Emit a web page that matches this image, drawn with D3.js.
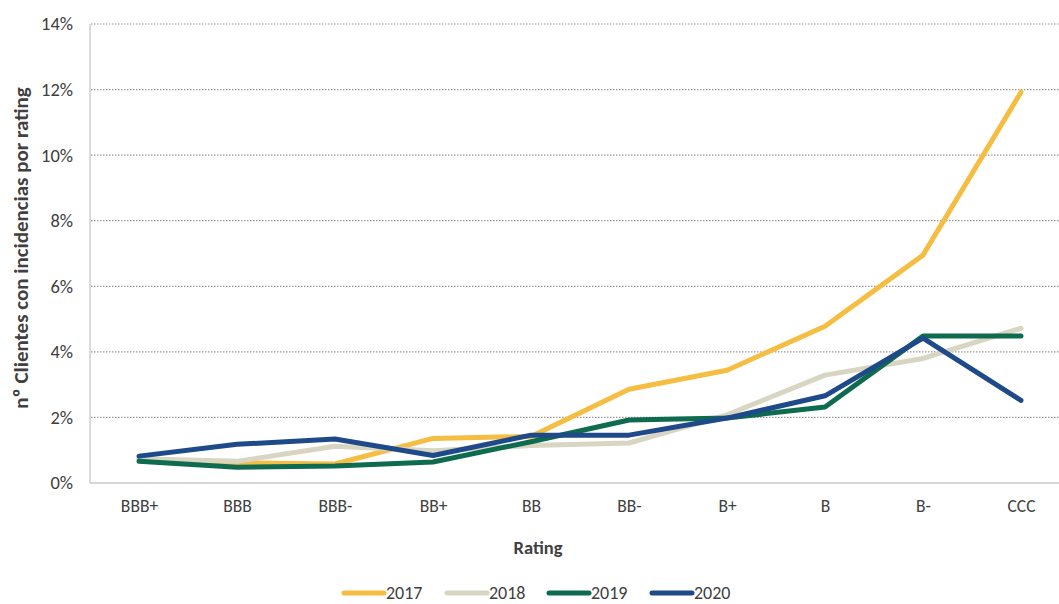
<!DOCTYPE html>
<html><head><meta charset="utf-8">
<script src="https://cdn.jsdelivr.net/npm/d3@7"></script>
<style>body{margin:0;background:#fff;} text{font-family:Carlito,Lato,"Open Sans",sans-serif;fill:#404040;}</style>
</head><body>
<svg id="c" width="1059" height="604"></svg>
<script>
const categories = ["BBB+","BBB","BBB-","BB+","BB","BB-","B+","B","B-","CCC"];
const years = ["2017","2018","2019","2020"];
const v2017 = [0.72,0.62,0.58,1.36,1.42,2.86,3.44,4.78,6.95,11.92];
const v2018 = [0.74,0.66,1.12,0.98,1.14,1.22,2.08,3.29,3.80,4.72];
const v2019 = [0.66,0.48,0.52,0.64,1.26,1.92,1.98,2.32,4.48,4.48];
const v2020 = [0.82,1.18,1.34,0.84,1.46,1.46,1.98,2.66,4.42,2.52];
const yTicks = [0,2,4,6,8,10,12,14];
const colors = ["#F5BD42","#D8D5C3","#0E6B4F","#1E4A89"];
const seriesVals = [v2017,v2018,v2019,v2020];

const svg = d3.select("#c");
const mLeft = 90, mRight = 1070, mTop = 24, mBottom = 483;
const x = d3.scalePoint().domain(categories).range([mLeft, mRight]).padding(0.5);
const y = d3.scaleLinear().domain([0,14]).range([mBottom, mTop]);
const FF = "Carlito,Lato,'Open Sans',sans-serif";

// gridlines
svg.append("g").selectAll("line").data(yTicks.filter(d=>d>0)).join("line")
  .attr("x1", mLeft+1).attr("x2", 1059)
  .attr("y1", d=>y(d)).attr("y2", d=>y(d))
  .attr("stroke", "#9a9a9a").attr("stroke-width", 1.2).attr("stroke-dasharray", "1.5,1.5");

// axes lines
svg.append("line").attr("x1", mLeft).attr("x2", mLeft).attr("y1", mTop).attr("y2", mBottom)
  .attr("stroke", "#c8c8c8").attr("stroke-width", 1.3);
svg.append("line").attr("x1", mLeft).attr("x2", 1059).attr("y1", mBottom).attr("y2", mBottom)
  .attr("stroke", "#c8c8c8").attr("stroke-width", 1.3);

// y tick labels
const yAxis = d3.axisLeft(y).tickValues(yTicks).tickFormat(d=>d+"%").tickSize(0).tickPadding(17);
const ga = svg.append("g").attr("transform", `translate(${mLeft},0)`).call(yAxis);
ga.select(".domain").remove();
ga.selectAll("text").style("font-size","18.5px").style("font-family",FF).attr("fill","#404040");

// x tick labels
const xAxis = d3.axisBottom(x).tickSize(0).tickPadding(17);
const gx = svg.append("g").attr("transform", `translate(0,${mBottom})`).call(xAxis);
gx.select(".domain").remove();
gx.selectAll("text").style("font-size","17.5px").style("font-family",FF).attr("fill","#404040");

// lines
const line = d3.line().x((d,i)=>x(categories[i])).y(d=>y(d));
seriesVals.forEach((vals,k)=>{
  svg.append("path").datum(vals).attr("d", line)
    .attr("fill","none").attr("stroke", colors[k]).attr("stroke-width", 5)
    .attr("stroke-linejoin","round").attr("stroke-linecap","round");
});

// axis titles
svg.append("text").attr("x", 538).attr("y", 554).attr("text-anchor","middle")
  .style("font-size","18.5px").style("font-weight","bold").text("Rating");
svg.append("text").attr("transform","translate(28,248) rotate(-90)").attr("text-anchor","middle")
  .style("font-size","21px").style("font-weight","bold").text("nº Clientes con incidencias por rating");

// legend
const legX = [342,445,547,650];
years.forEach((yr,k)=>{
  const g = svg.append("g").attr("transform", `translate(${legX[k]},593)`);
  g.append("line").attr("x1",2).attr("x2",42).attr("y1",0).attr("y2",0)
    .attr("stroke",colors[k]).attr("stroke-width",5).attr("stroke-linecap","round");
  g.append("text").attr("x",44).attr("y",6).style("font-size","18px").text(yr);
});
</script>
</body></html>
